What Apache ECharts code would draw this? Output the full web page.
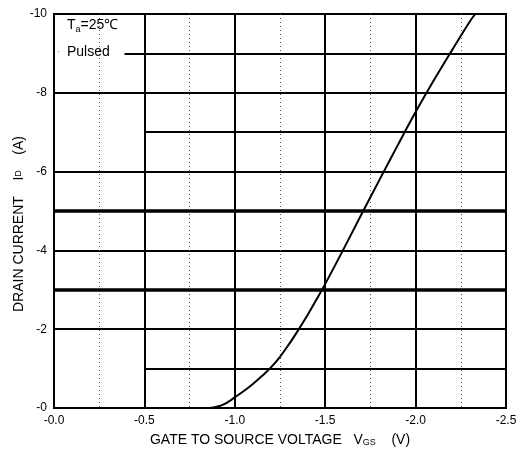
<!DOCTYPE html>
<html><head><meta charset="utf-8">
<script src="https://cdn.jsdelivr.net/npm/echarts@6/dist/echarts.min.js"></script>
<style>html,body{margin:0;padding:0;background:#fff}#c{width:527px;height:450px}</style>
</head><body><div id="c"></div>
<script>
// Transfer characteristic data (VGS in V, ID in A)
const vgs = [-0.86, -0.9, -0.95, -1.0, -1.05, -1.1, -1.15, -1.2, -1.25, -1.3, -1.35, -1.4, -1.45, -1.5, -1.6, -1.7, -1.8, -1.9, -2.0, -2.1, -2.2, -2.3, -2.33];
const idA = [0, -0.03, -0.12, -0.27, -0.43, -0.61, -0.81, -1.03, -1.3, -1.62, -1.97, -2.34, -2.74, -3.15, -4.02, -4.91, -5.79, -6.66, -7.51, -8.31, -9.07, -9.81, -10];
// Extra horizontal grid levels
const thickLevels = [-3, -5];
const partialLevels = [-1, -7, -9];
const partialStarts = [-0.5, -0.5, -0.39];
const xMin = -2.5, xMax = 0, yMin = -10, yMax = 0;
const noteLine1 = 'T{sub|a}=25℃';
const noteLine2 = 'Pulsed';

const font = 'Arial, "Liberation Sans", sans-serif';
const chart = echarts.init(document.getElementById('c'), null, {renderer: 'canvas'});

const mlData = [];
thickLevels.forEach(l => mlData.push([{coord: [xMax, l], lineStyle: {width: 3.5}}, {coord: [xMin, l]}]));
partialLevels.forEach((l, i) => mlData.push([{coord: [partialStarts[i], l], lineStyle: {width: 2}}, {coord: [xMin, l]}]));

chart.setOption({
  animation: false,
  backgroundColor: '#fff',
  grid: {left: 54, right: 21, top: 14, bottom: 42, containLabel: false, outerBoundsMode: 'none',
    show: true, borderColor: '#000', borderWidth: 2, backgroundColor: 'transparent'},
  xAxis: {
    type: 'value', min: xMin, max: xMax, interval: 0.5, inverse: true,
    axisLine: {show: false}, axisTick: {show: false},
    axisLabel: {color: '#000', fontSize: 12, fontFamily: font, margin: 7,
      formatter: v => (v === 0 ? '-0.0' : v.toFixed(1))},
    splitLine: {show: true, lineStyle: {color: '#000', width: 2}},
    minorTick: {show: false, splitNumber: 2},
    minorSplitLine: {show: true, lineStyle: {color: '#555', width: 1, type: [1, 3]}},
    name: 'GATE TO SOURCE VOLTAGE   V{s|GS}    (V)', nameLocation: 'middle', nameGap: 25,
    nameMoveOverlap: false,
    nameTextStyle: {color: '#000', fontSize: 14, fontFamily: font,
      rich: {s: {fontSize: 9, fontFamily: font, color: '#000', verticalAlign: 'bottom', padding: [4, 0, 0, 0]}}}
  },
  yAxis: {
    type: 'value', min: yMin, max: yMax, interval: 2, inverse: true,
    axisLine: {show: false}, axisTick: {show: false},
    axisLabel: {color: '#000', fontSize: 12, fontFamily: font, margin: 7,
      formatter: v => (v === 0 ? '-0' : String(v))},
    splitLine: {show: true, lineStyle: {color: '#000', width: 2}},
    name: 'DRAIN CURRENT    I{s|D}    (A)', nameLocation: 'middle', nameGap: 28, nameRotate: 90,
    nameMoveOverlap: false,
    nameTextStyle: {color: '#000', fontSize: 14, fontFamily: font, padding: [0, 26, 0, 0],
      rich: {s: {fontSize: 9, fontFamily: font, color: '#000'}}}
  },
  graphic: [
    {type: 'text', left: 67, top: 18, style: {text: noteLine1, fill: '#000', font: '14px ' + font,
      rich: {sub: {fontSize: 9, fill: '#000', padding: [10, 0, 0, 0]}}}, z: 10},
    {type: 'text', left: 67, top: 45, style: {text: noteLine2, fill: '#000', font: '14px ' + font}, z: 10},
    {type: 'text', left: 57, top: 47, style: {text: '·', fill: '#777', font: '10px ' + font}, z: 10}
  ],
  series: [{
    type: 'line', data: vgs.map((v, i) => [v, idA[i]]), smooth: 0.4, symbol: 'none',
    lineStyle: {color: '#000', width: 2}, z: 5,
    markLine: {silent: true, symbol: 'none', label: {show: false},
      lineStyle: {color: '#000', type: 'solid'}, data: mlData, z: 3}
  }]
});
</script></body></html>
